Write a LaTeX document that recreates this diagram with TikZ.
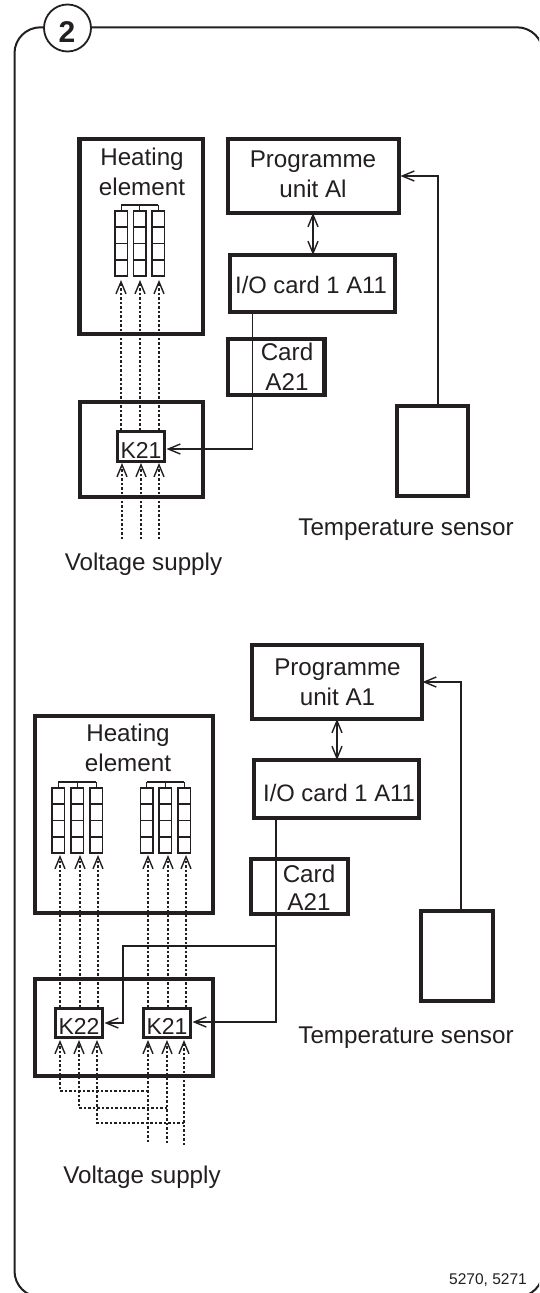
\documentclass[tikz,border=0pt]{standalone}
\usepackage{fontspec}
\setmainfont{Liberation Sans}
\usetikzlibrary{arrows.meta}
\definecolor{ink}{HTML}{231F20}
\tikzset{
  lbl/.style={inner sep=0pt,outer sep=0pt,text=ink,font=\fontsize{24.2}{29.5}\selectfont,align=center,anchor=base},
  bigbox/.style={draw=ink,line width=4.2pt,inner sep=0pt,outer sep=0pt},
  relay/.style={draw=ink,line width=3pt,inner sep=0pt,outer sep=0pt},
  barb/.tip={Straight Barb[length=12pt,width=10pt,line width=1.4pt]},
  wire/.style={draw=ink,line width=1.6pt,-barb},
  dwire/.style={draw=ink,line width=1.9pt},
  dot/.style={draw=ink,line width=1.8pt,dash pattern=on 2.2pt off 2.3pt},
  dota/.style={dot,-barb},
  cell/.style={draw=ink,line width=1.2pt},
}
\newcommand\bx[6]{\node[#6,minimum width={(#4-#2)*1pt},minimum height={(#5-#3)*1pt}] (#1) at ({(#2+#4)/2},{(#3+#5)/2}) {};}
\newcommand\hcol[2]{%
  \draw[cell] (#1,#2) rectangle ++(12.5,65);
  \foreach \yy in {16,32.5,49}{\draw[cell] (#1,#2+\yy) -- ++(12.5,0);}
  \draw[cell] (#1+6.25,#2) -- ++(0,-6);
}
\begin{document}
\begin{tikzpicture}[x=1pt,y=-1pt]
\useasboundingbox (0,0) rectangle (539,1293);
\clip (0,0) rectangle (539,1293);
\fill[white] (0,0) rectangle (539,1293);
% frame
\draw[draw=ink,line width=2pt,rounded corners=26pt] (14.5,1297) -- (14.5,27.3) -- (543,27.3) -- (543,1297) -- cycle;
\node[circle,draw=ink,fill=white,line width=1.8pt,minimum size=47pt,inner sep=0pt] (badge) at (67.5,28) {};
\node[inner sep=0pt,text=ink,font=\fontsize{30}{30}\selectfont\bfseries,anchor=base] (badgetext) at (67,42) {2};
% ---------- upper circuit
\bx{heatA}{79.5}{139}{203}{334}{bigbox}
\bx{kboxA}{80}{402}{203}{497}{bigbox}
\bx{progA}{228}{139}{399}{213}{bigbox}
\bx{ioA}{230}{255}{395}{312}{bigbox}
\bx{cardA}{228}{339}{324.5}{395}{bigbox}
\bx{sensA}{397}{406}{468}{496}{bigbox}
\bx{relA}{117.5}{431.5}{164}{461}{relay}
\node[lbl] (tHeatA) at (142,195) {Heating\\element};
\node[lbl] (tProgA) at (313,197) {Programme\\unit Al};
\node[lbl,font=\fontsize{23.8}{29}\selectfont] (tIoA) at (311,293) {I/O card 1 A11};
\node[lbl] (tCardA) at (287,390) {Card\\A21};
\node[lbl,font=\fontsize{23}{27}\selectfont] (tRelA) at (141,458) {K21};
\node[lbl] (tTempA) at (406,535) {Temperature sensor};
\node[lbl] (tVoltA) at (143.5,570) {Voltage supply};
\foreach \x in {115,133.5,152}{\hcol{\x}{211}}
\draw[cell] (121.25,205) -- (158.25,205);
\foreach \n/\x/\xx in {1/121/122,2/140/141,3/159/159}{
  \coordinate (upA\n) at (\x,280);
  \coordinate (midA\n) at (\x,430);
  \coordinate (lowA\n) at (\xx,539);
  \coordinate (tipA\n) at (\xx,463);
  \draw[dota] (midA\n) -- (upA\n);
  \draw[dota] (lowA\n) -- (tipA\n);
}
\draw[dwire,barb-barb] (313,213) -- (313,255);
\coordinate (sA) at (438,404.5);
\coordinate (sAt) at (438,176);
\coordinate (sAe) at (400.5,176);
\draw[wire] (sA) -- (sAt) -- (sAe);
\coordinate (cA1) at (252.5,314);
\coordinate (cA2) at (252.5,449);
\coordinate (cA3) at (166.5,449);
\draw[wire] (cA1) -- (cA2) -- (cA3);
% ---------- lower circuit
\bx{heatB}{35}{716}{213}{913}{bigbox}
\bx{kboxB}{35}{979}{213}{1076}{bigbox}
\bx{progB}{252}{645}{422}{719}{bigbox}
\bx{ioB}{254}{760}{419}{818}{bigbox}
\bx{cardB}{251}{859}{348}{914}{bigbox}
\bx{sensB}{421}{911}{493}{1001}{bigbox}
\bx{relB}{55.5}{1008.5}{102}{1037}{relay}
\bx{relC}{143.5}{1008.5}{190}{1037}{relay}
\node[lbl] (tHeatB) at (128,771) {Heating\\element};
\node[lbl] (tProgB) at (337.5,705) {Programme\\unit A1};
\node[lbl,font=\fontsize{23.8}{29}\selectfont] (tIoB) at (339,801) {I/O card 1 A11};
\node[lbl,font=\fontsize{24.2}{28}\selectfont] (tCardB) at (309,910.5) {Card\\A21};
\node[lbl,font=\fontsize{23}{27}\selectfont] (tRelB) at (79,1034.5) {K22};
\node[lbl,font=\fontsize{23}{27}\selectfont] (tRelC) at (167,1034.5) {K21};
\node[lbl] (tTempB) at (406,1043) {Temperature sensor};
\node[lbl] (tVoltB) at (142,1183) {Voltage supply};
\foreach \x in {52,71,90,140.5,159,178}{\hcol{\x}{788}}
\draw[cell] (58.25,782) -- (96.25,782);
\draw[cell] (146.75,782) -- (184.25,782);
\foreach \n/\x in {1/60,2/80,3/98,4/148,5/168,6/186}{
  \coordinate (upB\n) at (\x,855);
  \coordinate (midB\n) at (\x,1007);
  \draw[dota] (midB\n) -- (upB\n);
}
\foreach \n/\x/\e in {1/148/1142,2/167/1143,3/184/1145}{
  \coordinate (lowC\n) at (\x,\e);
  \coordinate (tipC\n) at (\x,1040);
  \draw[dota] (lowC\n) -- (tipC\n);
}
\foreach \n/\x/\y/\xx in {1/60/1091/148,2/79/1108/167,3/97/1123/184}{
  \coordinate (tipB\n) at (\x,1040);
  \coordinate (cnB\n) at (\x,\y);
  \coordinate (jnB\n) at (\xx,\y);
  \draw[dota] (jnB\n) -- (cnB\n) -- (tipB\n);
}
\draw[dwire,barb-barb] (337,719) -- (337,760);
\coordinate (sB) at (461,909.5);
\coordinate (sBt) at (461,682);
\coordinate (sBe) at (422.5,682);
\draw[wire] (sB) -- (sBt) -- (sBe);
\coordinate (cB1) at (276,820);
\coordinate (cB2) at (276,1022);
\coordinate (cB3) at (192.5,1022);
\draw[wire,line width=1.9pt] (cB1) -- (cB2) -- (cB3);
\coordinate (cB4) at (276,946);
\coordinate (cB5) at (123,946);
\coordinate (cB6) at (123,1023);
\coordinate (cB7) at (104.5,1023);
\draw[wire] (cB4) -- (cB5) -- (cB6) -- (cB7);
% drawing number
\node[inner sep=0pt,text=ink,font=\fontsize{15.5}{18}\selectfont,anchor=base east] (tNum) at (527,1284) {5270, 5271};
\end{tikzpicture}
\end{document}
